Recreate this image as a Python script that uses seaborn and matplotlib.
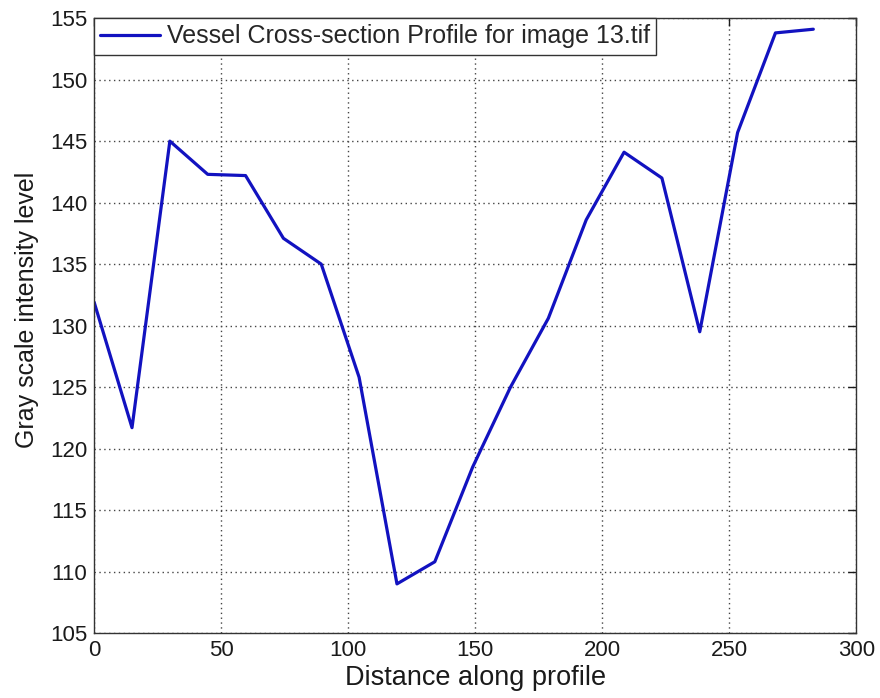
import matplotlib
matplotlib.use("Agg")
import matplotlib.pyplot as plt
import seaborn as sns
import pandas as pd

distance = [0.0, 14.9, 29.8, 44.7, 59.6, 74.5, 89.4, 104.3, 119.2, 134.1,
            149.0, 163.9, 178.8, 193.7, 208.6, 223.5, 238.4, 253.3, 268.2, 283.1]
intensity = [131.9, 121.7, 145.0, 142.3, 142.2, 137.1, 135.0, 125.8, 109.0, 110.8,
             118.5, 125.0, 130.6, 138.6, 144.1, 142.0, 129.5, 145.7, 153.8, 154.1]
series_label = "Vessel Cross-section Profile for image 13.tif"
x_ticks = [0, 50, 100, 150, 200, 250, 300]
y_ticks = [105, 110, 115, 120, 125, 130, 135, 140, 145, 150, 155]

df = pd.DataFrame({"Distance": distance, "Intensity": intensity})

sns.set_style("white")
plt.rcParams['font.family'] = ['Liberation Sans', 'DejaVu Sans']

fig = plt.figure(figsize=(8.8, 6.98), dpi=100)
ax = fig.add_axes([0.107, 0.093, 0.866, 0.881])

sns.lineplot(data=df, x="Distance", y="Intensity", ax=ax, color="#1212c0",
             linewidth=2.3, label=series_label)

ax.set_xlim(0, 300)
ax.set_ylim(105, 155)
ax.set_xticks(x_ticks)
ax.set_yticks(y_ticks)
ax.tick_params(direction="in", top=True, right=True, length=6, width=1,
               labelsize=16, colors="#1a1a1a", pad=5)
ax.grid(True, linestyle=(0, (1, 2.5)), color="#444444", linewidth=1)
for s in ax.spines.values():
    s.set_color("#333333")
    s.set_linewidth(1)
ax.set_xlabel("Distance along profile", fontsize=19.5, color="#1a1a1a", labelpad=3)
ax.set_ylabel("Gray scale intensity level", fontsize=18, color="#1a1a1a")
ax.yaxis.set_label_coords(-0.072, 0.525)

leg = ax.legend(loc="upper left", fontsize=18, frameon=True, fancybox=False,
                borderaxespad=0, handlelength=2.4, handletextpad=0.25,
                borderpad=0.25)
leg.get_frame().set_edgecolor("#333333")
leg.get_frame().set_linewidth(1)
leg.get_frame().set_alpha(1)

fig.savefig("out.png", dpi=100)
